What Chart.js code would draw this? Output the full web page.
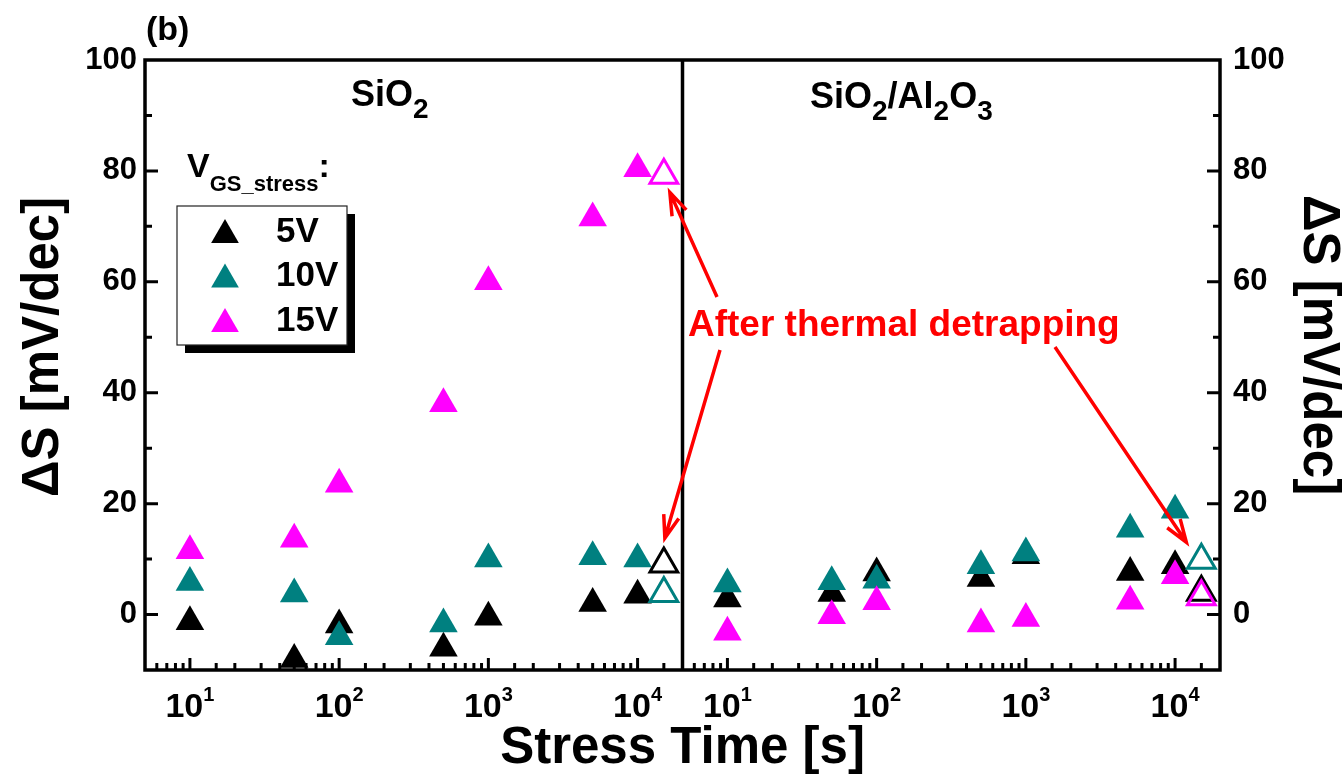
<!DOCTYPE html>
<html>
<head>
<meta charset="utf-8">
<script src="https://cdn.jsdelivr.net/npm/chart.js@4.4.1/dist/chart.umd.min.js"></script>
<style>
  html, body { margin: 0; padding: 0; background: #fff; }
</style>
</head>
<body>
<canvas id="dsChart" width="1343" height="779"></canvas>
<script>
// stress times (s), same for both panels
const stressTimes = [10, 50, 100, 500, 1000, 5000, 10000];
const detrapTime = 15000;

// SiO2 panel, delta S (mV/dec)
const sio2_5V  = [-1.3, -8.1, -1.9, -6.1, -0.5, 2.0, 3.5];
const sio2_10V = [5.8, 3.7, -4.0, -1.7, 10.0, 10.4, 10.0];
const sio2_15V = [11.5, 13.6, 23.5, 38.0, 60.0, 71.5, 80.4];
const sio2_detrap = [9.1, 3.8, 79.2]; // 5V, 10V, 15V after thermal detrapping

// SiO2/Al2O3 panel
const stack_5V  = [2.8, 3.8, 7.5, 6.5, 10.6, 7.6, 8.8];
const stack_10V = [5.5, 5.9, 6.2, 8.8, 11.1, 15.4, 18.8];
const stack_15V = [-3.2, -0.2, 2.3, -1.7, -0.7, 2.4, 7.0];
const stack_detrap = [4.0, 9.8, 3.2];

const seriesLabels = ['5V', '10V', '15V'];
const seriesColors = ['#000000', '#008080', '#FF00FF'];
const yTickLabels = [0, 20, 40, 60, 80, 100];

const FONT = '"Liberation Sans", Arial, Helvetica, sans-serif';

function toPoints(ys) {
  return ys.map((y, i) => ({ x: stressTimes[i], y: y }));
}

function filledSet(label, ys, idx, axis) {
  return {
    label: label,
    data: toPoints(ys),
    xAxisID: axis,
    pointStyle: 'triangle',
    pointRadius: 16.5,
    backgroundColor: seriesColors[idx],
    borderColor: seriesColors[idx],
    borderWidth: 0,
    order: 10 - idx
  };
}

function openSet(label, y, idx, axis) {
  return {
    label: label,
    data: [{ x: detrapTime, y: y }],
    xAxisID: axis,
    pointStyle: 'triangle',
    pointRadius: 16,
    backgroundColor: 'rgba(255,255,255,0)',
    borderColor: seriesColors[idx],
    borderWidth: 3,
    order: 5 - idx
  };
}

const datasets = [];
[sio2_5V, sio2_10V, sio2_15V].forEach((ys, i) => datasets.push(filledSet(seriesLabels[i], ys, i, 'x')));
[stack_5V, stack_10V, stack_15V].forEach((ys, i) => datasets.push(filledSet(seriesLabels[i], ys, i, 'x2')));
sio2_detrap.forEach((y, i) => datasets.push(openSet(seriesLabels[i] + ' detrap', y, i, 'x')));
stack_detrap.forEach((y, i) => datasets.push(openSet(seriesLabels[i] + ' detrap', y, i, 'x2')));

function isPow10(v) {
  const l = Math.log10(v);
  return Math.abs(l - Math.round(l)) < 1e-9;
}

function triangle(ctx, x, y, r) {
  ctx.beginPath();
  ctx.moveTo(x, y - r);
  ctx.lineTo(x + r * Math.sin(2 * Math.PI / 3), y + r / 2);
  ctx.lineTo(x - r * Math.sin(2 * Math.PI / 3), y + r / 2);
  ctx.closePath();
}

function drawRich(ctx, parts, x, y, color) {
  ctx.fillStyle = color;
  ctx.textAlign = 'left';
  ctx.textBaseline = 'alphabetic';
  let cx = x;
  parts.forEach(([text, size, dy]) => {
    ctx.font = 'bold ' + size + 'px ' + FONT;
    ctx.fillText(text, cx, y + dy);
    cx += ctx.measureText(text).width;
  });
}

function arrow(ctx, x1, y1, x2, y2) {
  const ang = Math.atan2(y2 - y1, x2 - x1);
  const len = 24, spread = 19 * Math.PI / 180;
  ctx.beginPath();
  ctx.moveTo(x1, y1);
  ctx.lineTo(x2, y2);
  ctx.moveTo(x2 - len * Math.cos(ang - spread), y2 - len * Math.sin(ang - spread));
  ctx.lineTo(x2, y2);
  ctx.lineTo(x2 - len * Math.cos(ang + spread), y2 - len * Math.sin(ang + spread));
  ctx.stroke();
}

// frame, inward ticks, x tick labels, titles, legend and notes
const decorPlugin = {
  id: 'decor',
  afterDatasetsDraw(chart) {
    const { ctx, chartArea: a, scales } = chart;
    ctx.save();
    ctx.strokeStyle = '#000';
    ctx.fillStyle = '#000';
    ctx.lineCap = 'butt';

    // x ticks (inward) + labels
    ctx.lineWidth = 3;
    ['x', 'x2'].forEach(id => {
      const s = scales[id];
      s.ticks.forEach(t => {
        const v = t.value;
        if (v <= s.min || v >= s.max) return;
        const px = s.getPixelForValue(v);
        const major = isPow10(v);
        ctx.beginPath();
        ctx.moveTo(px, a.bottom);
        ctx.lineTo(px, a.bottom - (major ? 12 : 7));
        ctx.stroke();
        if (major) {
          const exp = String(Math.round(Math.log10(v)));
          ctx.font = 'bold 34px ' + FONT;
          const w1 = ctx.measureText('10').width;
          ctx.font = 'bold 20px ' + FONT;
          const w2 = ctx.measureText(exp).width;
          const x0 = px - (w1 + w2) / 2;
          drawRich(ctx, [['10', 34, 0], [exp, 20, -16]], x0, a.bottom + 47, '#000');
        }
      });
    });

    // y ticks (inward) on both sides
    const ys = scales.y;
    ys.ticks.forEach(t => {
      const v = t.value;
      if (v <= ys.min || v >= ys.max) return;
      const py = ys.getPixelForValue(v);
      const len = v % 20 === 0 ? 13 : 7;
      ctx.beginPath();
      ctx.moveTo(a.left, py); ctx.lineTo(a.left + len, py);
      ctx.moveTo(a.right, py); ctx.lineTo(a.right - len, py);
      ctx.stroke();
    });

    // frame and panel divider
    ctx.lineWidth = 3.5;
    ctx.strokeRect(a.left, a.top, a.right - a.left, a.bottom - a.top);
    const divX = scales.x2.left;
    ctx.beginPath();
    ctx.moveTo(divX, a.top);
    ctx.lineTo(divX, a.bottom);
    ctx.stroke();

    // axis titles
    ctx.font = 'bold 51px ' + FONT;
    ctx.textAlign = 'center';
    ctx.textBaseline = 'middle';
    ctx.save();
    ctx.translate(44, 347);
    ctx.rotate(-Math.PI / 2);
    ctx.fillText('\u0394S [mV/dec]', 0, 0);
    ctx.restore();
    ctx.save();
    ctx.translate(1318, 345);
    ctx.rotate(Math.PI / 2);
    ctx.fillText('\u0394S [mV/dec]', 0, 0);
    ctx.restore();
    ctx.font = 'bold 51px ' + FONT;
    ctx.textBaseline = 'alphabetic';
    ctx.fillText('Stress Time [s]', (a.left + a.right) / 2, 763);

    // panel label and material names
    drawRich(ctx, [['(b)', 34, 0]], 146, 40, '#000');
    drawRich(ctx, [['SiO', 36, 0], ['2', 28, 12]], 351, 106, '#000');
    drawRich(ctx, [['SiO', 36, 0], ['2', 28, 12], ['/Al', 36, 0], ['2', 28, 12], ['O', 36, 0], ['3', 28, 12]], 810, 108, '#000');

    // legend
    drawRich(ctx, [['V', 34, 0], ['GS_stress', 22, 14], [':', 34, 0]], 187, 177, '#000');
    ctx.fillStyle = '#000';
    ctx.fillRect(185, 214, 170, 139);
    ctx.fillStyle = '#fff';
    ctx.fillRect(177, 206, 170, 139);
    ctx.lineWidth = 1.2;
    ctx.strokeStyle = '#222';
    ctx.strokeRect(177, 206, 170, 139);
    seriesLabels.forEach((lab, i) => {
      const cy = 232 + i * 44.5;
      ctx.fillStyle = seriesColors[i];
      triangle(ctx, 225, cy + 3, 16);
      ctx.fill();
      ctx.fillStyle = '#000';
      ctx.font = 'bold 35px ' + FONT;
      ctx.textAlign = 'left';
      ctx.textBaseline = 'middle';
      ctx.fillText(lab, 276, cy);
    });

    // annotation with arrows to the detrapped points
    drawRich(ctx, [['After thermal detrapping', 37, 0]], 688, 336, '#FF0000');
    ctx.strokeStyle = '#FF0000';
    ctx.lineWidth = 3.5;
    const x1 = scales.x, x2 = scales.x2;
    arrow(ctx, 717, 297, x1.getPixelForValue(detrapTime) + 6, ys.getPixelForValue(sio2_detrap[2]) + 17);
    arrow(ctx, 720, 350, x1.getPixelForValue(detrapTime) + 1, ys.getPixelForValue(sio2_detrap[0]) - 26);
    arrow(ctx, 1055, 347, x2.getPixelForValue(detrapTime) - 15, ys.getPixelForValue(stack_detrap[1]) - 18);

    ctx.restore();
  }
};

const xAxis = {
  type: 'logarithmic',
  position: 'bottom',
  stack: 'time',
  stackWeight: 1,
  min: 5,
  max: 20000,
  grid: { display: false, drawTicks: false },
  border: { display: false },
  ticks: { display: false },
  afterFit: s => { s.height = 109; }
};

const yAxis = (pos, width, pad) => ({
  type: 'linear',
  position: pos,
  min: -10,
  max: 100,
  grid: { display: false, drawTicks: false },
  border: { display: false },
  ticks: {
    stepSize: 10,
    padding: pad,
    color: '#000',
    font: { size: 31, weight: 'bold', family: FONT },
    callback: v => (yTickLabels.includes(v) ? String(v) : '')
  },
  afterFit: s => { s.width = width; }
});

new Chart(document.getElementById('dsChart').getContext('2d'), {
  type: 'scatter',
  data: { datasets: datasets },
  options: {
    responsive: false,
    animation: false,
    events: [],
    layout: { padding: { top: 60, left: 0, right: 0, bottom: 0 } },
    scales: {
      x: xAxis,
      x2: Object.assign({}, xAxis),
      y: yAxis('left', 145, 8),
      y2: yAxis('right', 123, 13)
    },
    plugins: {
      legend: { display: false },
      tooltip: { enabled: false }
    }
  },
  plugins: [decorPlugin]
});
</script>
</body>
</html>
